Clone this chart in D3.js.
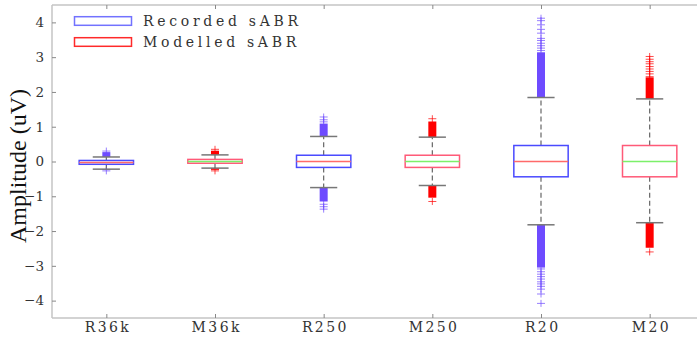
<!DOCTYPE html>
<html><head><meta charset="utf-8">
<script src="https://cdn.jsdelivr.net/npm/d3@7"></script>
<style>body{margin:0;background:#fff;}svg{display:block;}</style>
</head><body>
<svg id="c" width="697" height="339"></svg>
<script>
const categories = ["R36k","M36k","R250","M250","R20","M20"];
const kinds = ["R","M","R","M","R","M"];
const q1 = [-0.08,-0.05,-0.17,-0.17,-0.44,-0.44];
const medians = [-0.03,0.0,0.0,0.0,0.0,0.0];
const q3 = [0.03,0.06,0.18,0.18,0.46,0.46];
const whiskerLow = [-0.22,-0.19,-0.75,-0.69,-1.82,-1.76];
const whiskerHigh = [0.13,0.19,0.72,0.70,1.84,1.80];
const denseHighEnd = [0.27,0.31,1.09,1.15,3.14,2.42];
const denseLowEnd = [-0.24,-0.24,-1.15,-1.04,-3.05,-2.48];
const sparseOutliers = [
  [0.30,-0.27],
  [0.35,-0.27],
  [1.28,1.20,1.14,-1.23,-1.30,-1.37],
  [1.23,-1.15],
  [4.12,4.05,3.93,3.80,3.69,3.54,3.48,3.40,3.33,3.26,3.19,-3.09,-3.17,-3.24,-3.31,-3.38,-3.46,-3.52,-3.59,-3.67,-3.81,-4.08],
  [3.02,2.94,2.87,2.81,2.73,2.66,2.59,2.52,2.44,-2.6]
];
const yTicks = [-4,-3,-2,-1,0,1,2,3,4];
const legendLabels = ["Recorded sABR","Modelled sABR"];

const style = {
  R:{box:"#4a4aff", med:"#ff6a6a", out:"#6e4bff", leg:"#7272ff"},
  M:{box:"#ff5a78", med:"#7cf06a", out:"#ff0000", leg:"#ff2a2a"}
};

(function(){
const svg = d3.select("#c");
const pL = 52, pR = 704, pT = 5, pB = 318;
const x = d3.scaleLinear().domain([0.5, 6.5]).range([pL, pR]);
const y = d3.scaleLinear().domain([-4.5, 4.5]).range([pB, pT]);
const bw = (x(1) - x(0)) * 0.5;
const axisColor = "#c4c4c4";

svg.append("line").attr("x1",pL).attr("x2",697).attr("y1",pT).attr("y2",pT).attr("stroke",axisColor).attr("stroke-width",1.5);
svg.append("line").attr("x1",pL).attr("x2",697).attr("y1",pB).attr("y2",pB).attr("stroke",axisColor).attr("stroke-width",1.5);
svg.append("line").attr("x1",pL).attr("x2",pL).attr("y1",pT).attr("y2",pB).attr("stroke",axisColor).attr("stroke-width",1.5);

const yAxis = d3.axisLeft(y).tickValues(yTicks).tickSize(-4).tickPadding(8).tickFormat(d3.format("d"));
const ya = svg.append("g").attr("transform",`translate(${pL},0)`).call(yAxis);
ya.select(".domain").remove();
ya.selectAll("line").attr("stroke","#888");
ya.selectAll("text").attr("font-family","DejaVu Serif").attr("font-size",13.5).attr("fill","#333");

const xAxis = d3.axisBottom(x).tickValues(d3.range(1,7)).tickSize(-4).tickPadding(4).tickFormat(i=>categories[i-1]);
const xa = svg.append("g").attr("transform",`translate(0,${pB})`).call(xAxis);
xa.select(".domain").remove();
xa.selectAll("line").attr("stroke","#888");
xa.selectAll("text").attr("font-family","DejaVu Serif").attr("font-size",14).attr("fill","#333")
  .attr("letter-spacing","2.4px").attr("dx","1.2");
const xt = svg.append("g").attr("transform",`translate(0,${pT})`).call(d3.axisTop(x).tickValues(d3.range(1,7)).tickSize(-4).tickFormat(""));
xt.select(".domain").remove();
xt.selectAll("line").attr("stroke","#888");

svg.append("text").attr("transform",`translate(26,166) rotate(-90)`)
  .attr("text-anchor","middle").attr("font-family","Liberation Serif").attr("font-size",24).attr("fill","#111")
  .text("Amplitude (uV)");

categories.forEach((c,i)=>{
  const cx = x(i+1);
  const st = style[kinds[i]];
  const g = svg.append("g");
  g.append("line").attr("x1",cx).attr("x2",cx).attr("y1",y(q3[i])).attr("y2",y(whiskerHigh[i]))
    .attr("stroke","#666").attr("stroke-width",1.2).attr("stroke-dasharray","5,3");
  g.append("line").attr("x1",cx).attr("x2",cx).attr("y1",y(q1[i])).attr("y2",y(whiskerLow[i]))
    .attr("stroke","#666").attr("stroke-width",1.2).attr("stroke-dasharray","5,3");
  const pw = 8;
  g.append("rect").attr("x",cx-pw/2).attr("width",pw)
    .attr("y",y(denseHighEnd[i])).attr("height",y(whiskerHigh[i])-y(denseHighEnd[i]))
    .attr("fill",st.out);
  g.append("rect").attr("x",cx-pw/2).attr("width",pw)
    .attr("y",y(whiskerLow[i])).attr("height",y(denseLowEnd[i])-y(whiskerLow[i]))
    .attr("fill",st.out);
  sparseOutliers[i].forEach(v=>{
    g.append("line").attr("x1",cx-pw/2).attr("x2",cx+pw/2).attr("y1",y(v)).attr("y2",y(v)).attr("stroke",st.out).attr("stroke-width",1).attr("opacity",0.7);
    g.append("line").attr("x1",cx).attr("x2",cx).attr("y1",y(v)-3.5).attr("y2",y(v)+3.5).attr("stroke",st.out).attr("stroke-width",1).attr("opacity",0.7);
  });
  g.append("line").attr("x1",cx-bw/4).attr("x2",cx+bw/4).attr("y1",y(whiskerHigh[i])).attr("y2",y(whiskerHigh[i])).attr("stroke","#777").attr("stroke-width",1.5);
  g.append("line").attr("x1",cx-bw/4).attr("x2",cx+bw/4).attr("y1",y(whiskerLow[i])).attr("y2",y(whiskerLow[i])).attr("stroke","#777").attr("stroke-width",1.5);
  g.append("rect").attr("x",cx-bw/2).attr("width",bw).attr("y",y(q3[i])).attr("height",y(q1[i])-y(q3[i]))
    .attr("fill","none").attr("stroke",st.box).attr("stroke-width",1.5);
  g.append("line").attr("x1",cx-bw/2).attr("x2",cx+bw/2).attr("y1",y(medians[i])).attr("y2",y(medians[i]))
    .attr("stroke",st.med).attr("stroke-width",1.4);
});

legendLabels.forEach((t,k)=>{
  const st = style[k===0?"R":"M"];
  const ly = 21 + k*21;
  svg.append("rect").attr("x",74.5).attr("y",ly-4.3).attr("width",57).attr("height",8.6).attr("fill","none").attr("stroke",st.leg).attr("stroke-width",1.5);
  svg.append("text").attr("x",143).attr("y",ly+4.5).attr("font-family","DejaVu Serif").attr("font-size",14).attr("letter-spacing","3.7px").attr("fill","#333").text(t);
});
})();
</script>
</body></html>
